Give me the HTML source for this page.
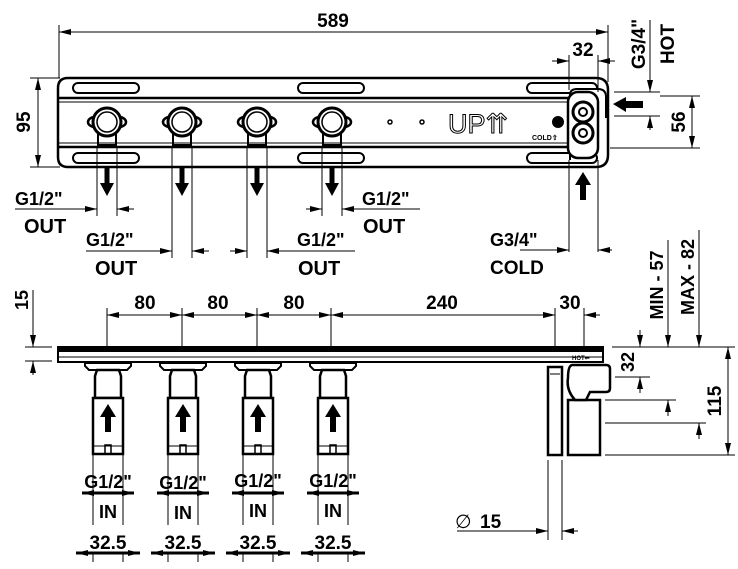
<!DOCTYPE html>
<html><head><meta charset="utf-8"><style>
html,body{margin:0;padding:0;background:#fff}
svg{display:block}
text{font-family:"Liberation Sans",Arial,sans-serif;font-weight:bold;fill:#000}
</style></head><body>
<svg width="738" height="569" viewBox="0 0 738 569" xmlns="http://www.w3.org/2000/svg">
<defs>
<marker id="a" viewBox="0 0 12 6" refX="12" refY="3" markerWidth="12" markerHeight="6" orient="auto-start-reverse" markerUnits="userSpaceOnUse"><path d="M0,0L12,3L0,6z" fill="#000"/></marker>
<g id="valveTop">
  <ellipse cx="-12" cy="0" rx="7" ry="5" fill="none" stroke="#000" stroke-width="2.5"/>
  <ellipse cx="12" cy="0" rx="7" ry="5" fill="none" stroke="#000" stroke-width="2.5"/>
  <circle cx="0" cy="0" r="14" fill="#fff" stroke="#000" stroke-width="3"/>
  <circle cx="0" cy="0" r="10" fill="#fff" stroke="#000" stroke-width="1.5"/>
  <path d="M-9,12V23H9V12" fill="none" stroke="#000" stroke-width="2"/>
  <rect x="-10" y="22" width="20" height="3" fill="#000"/>
</g>
<g id="arrowDown"><rect x="-2.5" y="0" width="5" height="16" fill="#000"/><path d="M-7,15L7,15L0,28z" fill="#000"/></g>
<g id="arrowUp"><rect x="-3" y="12" width="6" height="16" fill="#000"/><path d="M-8,13L8,13L0,0z" fill="#000"/></g>
<g id="valveSide">
  <path d="M-23,363h46v3l-4,4h-38l-4,-4z" fill="#fff" stroke="#000" stroke-width="2"/>
  <path d="M-11,370h22l2,6v22h-26v-22z" fill="#fff" stroke="#000" stroke-width="2.5"/>
  <path d="M-15,398h30v56h-30z" fill="#fff" stroke="#000" stroke-width="2.5"/>
  <path d="M-3,454v-9h6v9" fill="none" stroke="#000" stroke-width="1.5"/>
  <line x1="-15" y1="446" x2="15" y2="446" stroke="#000" stroke-width="1"/>
  <use href="#arrowUp" y="404"/>
</g>
</defs>
<g stroke="#000" fill="none">
<line x1="59" y1="25" x2="59" y2="78" stroke-width="1"/>
<line x1="608" y1="25" x2="608" y2="80" stroke-width="1"/>
<line x1="59" y1="32" x2="608" y2="32" stroke-width="1" marker-start="url(#a)" marker-end="url(#a)"/>
<line x1="30" y1="78" x2="60" y2="78" stroke-width="1"/>
<line x1="30" y1="167" x2="60" y2="167" stroke-width="1"/>
<line x1="38" y1="78" x2="38" y2="167" stroke-width="1" marker-start="url(#a)" marker-end="url(#a)"/>
<path d="M68,78H596Q608,78 608,90V155Q608,167 596,167H68Q58,167 58,157V88Q58,78 68,78z" stroke-width="2.5"/>
<line x1="59" y1="98" x2="570" y2="98" stroke-width="2.5"/>
<line x1="59" y1="102" x2="570" y2="102" stroke-width="1"/>
<line x1="59" y1="143" x2="570" y2="143" stroke-width="1"/>
<line x1="59" y1="147" x2="570" y2="147" stroke-width="2.5"/>
<rect x="73" y="83" width="66" height="10" rx="5" stroke-width="2"/>
<rect x="298" y="83" width="66" height="10" rx="5" stroke-width="2"/>
<rect x="527" y="83" width="70" height="10" rx="5" stroke-width="2"/>
<rect x="73" y="153" width="66" height="10" rx="5" stroke-width="2"/>
<rect x="298" y="153" width="66" height="10" rx="5" stroke-width="2"/>
<rect x="527" y="153" width="70" height="10" rx="5" stroke-width="2"/>
<path d="M570,160V95Q570,89 577,89H598Q606,89 606,97V118" stroke-width="2" fill="#fff"/>
<rect x="568" y="92" width="30" height="66" rx="10" stroke-width="2.5" fill="#fff"/>
<circle cx="583" cy="112" r="10" stroke-width="3"/><circle cx="583" cy="112" r="4" stroke-width="2"/>
<circle cx="583" cy="133" r="10" stroke-width="3"/><circle cx="583" cy="133" r="4" stroke-width="2"/>
<circle cx="390" cy="122" r="2" stroke-width="1.5"/><circle cx="422" cy="122" r="2" stroke-width="1.5"/>
</g>
<circle cx="558" cy="122" r="6" fill="#000"/>
<text x="448" y="133" font-size="27" style="font-weight:normal;fill:#fff;stroke:#000;stroke-width:1">UP⇈</text>
<text x="532" y="140" font-size="7">COLD⇧</text>
<use href="#valveTop" x="107" y="122"/><use href="#valveTop" x="182" y="122"/><use href="#valveTop" x="257" y="122"/><use href="#valveTop" x="332" y="122"/>
<text x="333" y="27" font-size="19" text-anchor="middle">589</text>
<text transform="translate(30,122) rotate(-90)" font-size="19" text-anchor="middle">95</text>
<g stroke="#000" stroke-width="1">
<line x1="569" y1="55" x2="569" y2="90"/><line x1="598" y1="55" x2="598" y2="92"/>
<line x1="552" y1="61" x2="569" y2="61" marker-end="url(#a)"/><line x1="615" y1="61" x2="598" y2="61" marker-end="url(#a)"/>
<line x1="608" y1="33" x2="608" y2="82"/>
<line x1="614" y1="92" x2="660" y2="92"/><line x1="614" y1="116" x2="660" y2="116"/>
<line x1="650" y1="20" x2="650" y2="92" marker-end="url(#a)"/><line x1="650" y1="130" x2="650" y2="116" marker-end="url(#a)"/>
<line x1="660" y1="96" x2="700" y2="96"/><line x1="610" y1="148" x2="700" y2="148"/>
<line x1="692" y1="96" x2="692" y2="148" marker-start="url(#a)" marker-end="url(#a)"/>
<line x1="569" y1="160" x2="569" y2="252"/><line x1="598" y1="160" x2="598" y2="252"/>
<line x1="520" y1="250" x2="569" y2="250" marker-end="url(#a)"/><line x1="612" y1="250" x2="598" y2="250" marker-end="url(#a)"/>
</g>
<text x="583" y="56" font-size="19" text-anchor="middle">32</text>
<text transform="translate(645,44) rotate(-90)" font-size="19" text-anchor="middle">G3/4"</text>
<text transform="translate(674,44) rotate(-90)" font-size="19" text-anchor="middle">HOT</text>
<text transform="translate(685,122) rotate(-90)" font-size="19" text-anchor="middle">56</text>
<path d="M613,104L626,97V101H643V108H626V112z" fill="#000"/>
<use href="#arrowUp" x="583" y="172"/>
<text x="490" y="246" font-size="18">G3/4"</text>
<text x="490" y="274" font-size="19">COLD</text>
<use href="#arrowDown" x="107" y="168"/><use href="#arrowDown" x="182" y="168"/><use href="#arrowDown" x="257" y="168"/><use href="#arrowDown" x="332" y="168"/>
<g stroke="#000" stroke-width="1">
<line x1="97" y1="147" x2="97" y2="216"/><line x1="117" y1="147" x2="117" y2="216"/>
<line x1="15" y1="209" x2="97" y2="209" marker-end="url(#a)"/><line x1="134" y1="209" x2="117" y2="209" marker-end="url(#a)"/>
<line x1="172" y1="147" x2="172" y2="258"/><line x1="192" y1="147" x2="192" y2="258"/>
<line x1="86" y1="251" x2="172" y2="251" marker-end="url(#a)"/><line x1="209" y1="251" x2="192" y2="251" marker-end="url(#a)"/>
<line x1="247" y1="147" x2="247" y2="258"/><line x1="267" y1="147" x2="267" y2="258"/>
<line x1="230" y1="251" x2="247" y2="251" marker-end="url(#a)"/><line x1="355" y1="251" x2="267" y2="251" marker-end="url(#a)"/>
<line x1="322" y1="147" x2="322" y2="216"/><line x1="342" y1="147" x2="342" y2="216"/>
<line x1="306" y1="209" x2="322" y2="209" marker-end="url(#a)"/><line x1="420" y1="209" x2="342" y2="209" marker-end="url(#a)"/>
</g>
<text x="15" y="205" font-size="18">G1/2"</text><text x="24" y="233" font-size="20">OUT</text>
<text x="86" y="246" font-size="18">G1/2"</text><text x="95" y="275" font-size="20">OUT</text>
<text x="297" y="246" font-size="18">G1/2"</text><text x="298" y="275" font-size="20">OUT</text>
<text x="362" y="205" font-size="18">G1/2"</text><text x="363" y="233" font-size="20">OUT</text>
<g stroke="#000" stroke-width="1">
<line x1="107" y1="308" x2="107" y2="352"/><line x1="182" y1="308" x2="182" y2="352"/><line x1="257" y1="308" x2="257" y2="352"/><line x1="331" y1="308" x2="331" y2="352"/><line x1="555" y1="308" x2="555" y2="352"/><line x1="584" y1="308" x2="584" y2="352"/>
<line x1="107" y1="315" x2="182" y2="315" marker-start="url(#a)" marker-end="url(#a)"/>
<line x1="182" y1="315" x2="257" y2="315" marker-start="url(#a)" marker-end="url(#a)"/>
<line x1="257" y1="315" x2="331" y2="315" marker-start="url(#a)" marker-end="url(#a)"/>
<line x1="331" y1="315" x2="555" y2="315" marker-start="url(#a)" marker-end="url(#a)"/>
<line x1="540" y1="315" x2="555" y2="315" marker-end="url(#a)"/><line x1="600" y1="315" x2="584" y2="315" marker-end="url(#a)"/>
<line x1="25" y1="347" x2="52" y2="347"/><line x1="25" y1="361" x2="52" y2="361"/>
<line x1="33" y1="290" x2="33" y2="347" marker-end="url(#a)"/><line x1="33" y1="375" x2="33" y2="361" marker-end="url(#a)"/>
<line x1="612" y1="347" x2="735" y2="347"/><line x1="615" y1="377" x2="650" y2="377"/>
<line x1="605" y1="400" x2="676" y2="400"/><line x1="605" y1="423" x2="706" y2="423"/><line x1="605" y1="455" x2="735" y2="455"/>
<line x1="640" y1="330" x2="640" y2="347" marker-end="url(#a)"/><line x1="640" y1="393" x2="640" y2="377" marker-end="url(#a)"/>
<line x1="668" y1="240" x2="668" y2="347" marker-end="url(#a)"/><line x1="668" y1="416" x2="668" y2="400" marker-end="url(#a)"/>
<line x1="699" y1="230" x2="699" y2="347" marker-end="url(#a)"/><line x1="699" y1="439" x2="699" y2="423" marker-end="url(#a)"/>
<line x1="728" y1="347" x2="728" y2="455" marker-start="url(#a)" marker-end="url(#a)"/>
<line x1="548" y1="460" x2="548" y2="540"/><line x1="562" y1="460" x2="562" y2="540"/>
<line x1="457" y1="531" x2="548" y2="531" marker-end="url(#a)"/><line x1="578" y1="531" x2="562" y2="531" marker-end="url(#a)"/>
</g>
<text x="145" y="309" font-size="19" text-anchor="middle">80</text>
<text x="218" y="309" font-size="19" text-anchor="middle">80</text>
<text x="294" y="309" font-size="19" text-anchor="middle">80</text>
<text x="442" y="309" font-size="19" text-anchor="middle">240</text>
<text x="570" y="309" font-size="19" text-anchor="middle">30</text>
<text transform="translate(28,300) rotate(-90)" font-size="18" text-anchor="middle">15</text>
<text transform="translate(634,362) rotate(-90)" font-size="18" text-anchor="middle">32</text>
<text transform="translate(663,285) rotate(-90)" font-size="18" text-anchor="middle">MIN - 57</text>
<text transform="translate(694,277) rotate(-90)" font-size="18" text-anchor="middle">MAX - 82</text>
<text transform="translate(721,401) rotate(-90)" font-size="19" text-anchor="middle">115</text>
<text x="455" y="528" font-size="19" style="font-weight:normal">∅</text><text x="480" y="528" font-size="19">15</text>
<rect x="58" y="347" width="545" height="15" fill="#fff" stroke="#000" stroke-width="2"/>
<rect x="58" y="347" width="545" height="5" fill="#000"/>
<line x1="58" y1="357" x2="603" y2="357" stroke="#000" stroke-width="1"/>
<text x="572" y="360" font-size="6">HOT⇐</text>
<use href="#valveSide" x="108"/><use href="#valveSide" x="183"/><use href="#valveSide" x="258"/><use href="#valveSide" x="333"/>
<g stroke="#000" stroke-width="2.5" fill="#fff">
<rect x="548" y="367" width="14" height="88"/>
<rect x="568" y="400" width="32" height="55"/>
<path d="M572,365H606Q610,365 610,369V388Q610,392 606,392H590L586,400H575Q566,390 568,378Q568,366 572,365z"/>
</g>
<line x1="550" y1="374" x2="560" y2="374" stroke="#000" stroke-width="1"/>
<g stroke="#000" stroke-width="1">
<line x1="93" y1="455" x2="93" y2="525"/><line x1="123" y1="455" x2="123" y2="525"/>
<line x1="168" y1="455" x2="168" y2="525"/><line x1="198" y1="455" x2="198" y2="525"/>
<line x1="243" y1="455" x2="243" y2="525"/><line x1="273" y1="455" x2="273" y2="525"/>
<line x1="318" y1="455" x2="318" y2="525"/><line x1="348" y1="455" x2="348" y2="525"/>
<line x1="93" y1="553" x2="93" y2="562"/><line x1="123" y1="553" x2="123" y2="562"/>
<line x1="168" y1="553" x2="168" y2="562"/><line x1="198" y1="553" x2="198" y2="562"/>
<line x1="243" y1="553" x2="243" y2="562"/><line x1="273" y1="553" x2="273" y2="562"/>
<line x1="318" y1="553" x2="318" y2="562"/><line x1="348" y1="553" x2="348" y2="562"/>
</g>
<g stroke="#000" stroke-width="3" marker-end="url(#a)">
<line x1="108" y1="493" x2="82" y2="493"/><line x1="108" y1="493" x2="134" y2="493"/>
<line x1="183" y1="493" x2="157" y2="493"/><line x1="183" y1="493" x2="209" y2="493"/>
<line x1="258" y1="493" x2="232" y2="493"/><line x1="258" y1="493" x2="284" y2="493"/>
<line x1="333" y1="493" x2="307" y2="493"/><line x1="333" y1="493" x2="359" y2="493"/>
<line x1="108" y1="553" x2="76" y2="553"/><line x1="108" y1="553" x2="140" y2="553"/>
<line x1="183" y1="553" x2="151" y2="553"/><line x1="183" y1="553" x2="215" y2="553"/>
<line x1="258" y1="553" x2="226" y2="553"/><line x1="258" y1="553" x2="290" y2="553"/>
<line x1="333" y1="553" x2="301" y2="553"/><line x1="333" y1="553" x2="365" y2="553"/>
</g>
<g font-size="18" text-anchor="middle">
<text x="108" y="488">G1/2"</text><text x="183" y="489">G1/2"</text><text x="258" y="487">G1/2"</text><text x="333" y="487">G1/2"</text>
<text x="108" y="518">IN</text><text x="183" y="519">IN</text><text x="258" y="517">IN</text><text x="333" y="517">IN</text>
<text x="108" y="549" font-size="19">32.5</text><text x="183" y="549" font-size="19">32.5</text><text x="258" y="549" font-size="19">32.5</text><text x="333" y="549" font-size="19">32.5</text>
</g>
</svg>
</body></html>
